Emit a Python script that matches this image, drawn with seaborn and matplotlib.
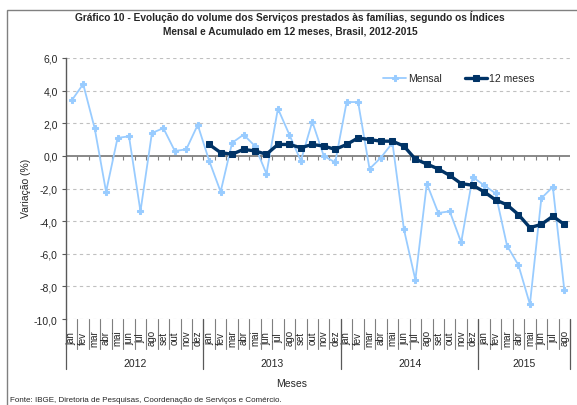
import numpy as np
import pandas as pd
import seaborn as sns
import matplotlib.pyplot as plt
from matplotlib.patches import Rectangle

# -----------------------------
# Data
# -----------------------------
meses = ['jan', 'fev', 'mar', 'abr', 'mai', 'jun', 'jul', 'ago', 'set', 'out', 'nov', 'dez']
anos = ['2012', '2013', '2014', '2015']
meses_por_ano = [12, 12, 12, 8]

# Mensal: jan/2012 .. ago/2015
mensal = [3.4, 4.4, 1.7, -2.2, 1.1, 1.2, -3.4, 1.4, 1.7, 0.3, 0.4, 1.9,
          -0.3, -2.2, 0.8, 1.3, 0.6, -1.1, 2.9, 1.3, -0.3, 2.1, 0.0, -0.4,
          3.3, 3.3, -0.8, -0.1, 0.8, -4.5, -7.6, -1.7, -3.5, -3.4, -5.3, -1.3,
          -1.8, -2.3, -5.5, -6.7, -9.1, -2.6, -1.9, -8.2]

# Acumulado em 12 meses: jan/2013 .. ago/2015
doze_meses = [0.7, 0.2, 0.1, 0.4, 0.3, 0.1, 0.7, 0.7, 0.5, 0.7, 0.6, 0.4,
              0.7, 1.1, 1.0, 0.9, 0.9, 0.6, -0.2, -0.5, -0.8, -1.2, -1.7, -1.8,
              -2.2, -2.7, -3.0, -3.6, -4.4, -4.2, -3.7, -4.2]

yticks = [6, 4, 2, 0, -2, -4, -6, -8, -10]

rotulos = []
for n in meses_por_ano:
    rotulos += meses[:n]
n = len(rotulos)

df_mensal = pd.DataFrame({'pos': np.arange(n), 'valor': mensal})
df_12 = pd.DataFrame({'pos': np.arange(n - len(doze_meses), n), 'valor': doze_meses})

# -----------------------------
# Plot
# -----------------------------
sns.set_style('white')
plt.rcParams['font.family'] = ['Liberation Sans', 'DejaVu Sans']

W, H = 577, 406
fig = plt.figure(figsize=(W / 100, H / 100), dpi=100)
ax = fig.add_axes([66 / W, 1 - 320 / H, (570 - 66) / W, (320 - 59) / H])

# gridlines
for v in yticks:
    if v != 0:
        ax.axhline(v, color='#C0C0C0', ls=(0, (3, 3)), lw=0.8, zorder=0)
ax.axhline(0, color='#7F7F7F', lw=1.3, zorder=1)
ax.vlines(np.arange(0.5, n - 1, 1), -0.25, 0, color='#7F7F7F', lw=0.8, zorder=1)

sns.lineplot(data=df_mensal, x='pos', y='valor', ax=ax, color='#99CCFF', lw=1.3,
             marker='P', markersize=5, markeredgecolor='#99CCFF', label='Mensal', zorder=3)
sns.lineplot(data=df_12, x='pos', y='valor', ax=ax, color='#003366', lw=2.4,
             marker='s', markersize=4, markeredgecolor='#003366', label='12 meses', zorder=4)

ax.set_xlim(-0.5, n - 0.5)
ax.set_ylim(-10, 6)
ax.set_yticks(yticks)
ax.set_yticklabels([f'{v:.1f}'.replace('.', ',') for v in yticks], fontsize=7.5)
ax.set_xticks([])
ax.set_xlabel('')
ax.set_ylabel('')
for s in ['top', 'right', 'bottom']:
    ax.spines[s].set_visible(False)
ax.spines['left'].set_color('#595959')
ax.spines['left'].set_linewidth(1.0)
ax.tick_params(axis='y', length=3, color='#595959', pad=3, left=True)

# month labels, separators and year labels below the plot
tr = ax.get_xaxis_transform()
for i, m in enumerate(rotulos):
    ax.text(i, -0.07, m, transform=tr, rotation=90, ha='center', va='center', fontsize=7)
for b in np.arange(-0.5, n, 1):
    ax.plot([b, b], [0, -0.115], transform=tr, color='#7F7F7F', lw=0.8, clip_on=False)
inicio = -0.5
for ano, k in zip(anos, meses_por_ano):
    ax.plot([inicio, inicio], [0, -0.192], transform=tr, color='#595959', lw=0.9, clip_on=False)
    ax.text(inicio + k / 2, -0.169, ano, transform=tr, ha='center', va='center', fontsize=7.5)
    inicio += k
ax.plot([inicio, inicio], [0, -0.192], transform=tr, color='#595959', lw=0.9, clip_on=False)

leg = ax.legend(loc='upper left', bbox_to_anchor=(374 / W, 1 - 65 / H), bbox_transform=fig.transFigure,
                ncol=2, frameon=False, fontsize=7.5, handlelength=2.2, columnspacing=2.2, handletextpad=0.15)

# texts
fig.text(290 / W, 1 - 17 / H, 'Gráfico 10 - Evolução do volume dos Serviços prestados às famílias, segundo os Índices',
         ha='center', va='center', fontsize=7.3, fontweight='bold')
fig.text(290 / W, 1 - 31 / H, 'Mensal e Acumulado em 12 meses, Brasil, 2012-2015',
         ha='center', va='center', fontsize=7.3, fontweight='bold')
fig.text(26 / W, 1 - 188 / H, 'Variação (%)', rotation=90, ha='center', va='center', fontsize=7.5)
fig.text(292 / W, 1 - 384 / H, 'Meses', ha='center', va='center', fontsize=7.5)
fig.text(10 / W, 1 - 401 / H, 'Fonte: IBGE, Diretoria de Pesquisas, Coordenação de Serviços e Comércio.',
         ha='left', va='center', fontsize=5.8)

fig.add_artist(Rectangle((7 / W, -0.5), 2, 1.5 - 11 / H, transform=fig.transFigure,
                         fill=False, ec='#808080', lw=1))

fig.savefig('out.png', dpi=100)
